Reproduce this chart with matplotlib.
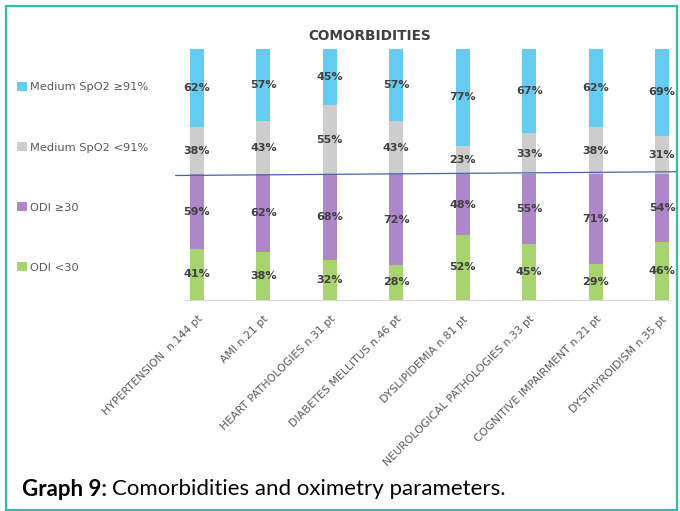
import matplotlib
matplotlib.use("Agg")
import matplotlib.pyplot as plt
from matplotlib.patches import Rectangle
import numpy as np

categories = [
    "HYPERTENSION  n.144 pt",
    "AMI n.21 pt",
    "HEART PATHOLOGIES n.31 pt",
    "DIABETES MELLITUS n.46 pt",
    "DYSLIPIDEMIA n.81 pt",
    "NEUROLOGICAL PATHOLOGIES n.33 pt",
    "COGNITIVE IMPAIRMENT n.21 pt",
    "DYSTHYROIDISM n.35 pt",
]
odi_low = [41, 38, 32, 28, 52, 45, 29, 46]
odi_high = [59, 62, 68, 72, 48, 55, 71, 54]
spo2_low = [38, 43, 55, 43, 23, 33, 38, 31]
spo2_high = [62, 57, 45, 57, 77, 67, 62, 69]

series_labels = ["ODI <30", "ODI \u226530", "Medium SpO2 <91%", "Medium SpO2 \u226591%"]
colors = ["#A8D46F", "#AD87CA", "#CDCDCD", "#65CBF0"]

fig = plt.figure(figsize=(6.8, 5.11), dpi=100)
ax = fig.add_axes([185 / 680, 1 - 300 / 511, 485 / 680, 251 / 511])

x = np.arange(len(categories))
width = 0.21
# ODI stack goes 0-100, SpO2 stack sits on top from 100-200
bottoms = [np.zeros(len(x)), np.array(odi_low), np.full(len(x), 100.0),
           100 + np.array(spo2_low)]
handles = []
for vals, bot, col, lab in zip([odi_low, odi_high, spo2_low, spo2_high],
                               bottoms, colors, series_labels):
    bars = ax.bar(x, vals, width, bottom=bot, color=col, label=lab)
    handles.append(bars)
    for xi, v, b in zip(x, vals, bot):
        ax.text(xi, b + v / 2, f"{v}%", ha="center", va="center",
                fontsize=8, fontweight="bold", color="#404040")

ax.set_xlim(-0.18, 7.12)
ax.set_ylim(0, 200)
ax.set_yticks([])
for s in ["top", "right", "left"]:
    ax.spines[s].set_visible(False)
ax.spines["bottom"].set_color("#D9D9D9")
ax.set_xticks(x)
ax.set_xticklabels(categories, rotation=45, ha="right", rotation_mode="anchor",
                   fontsize=7.8, color="#595959")
ax.tick_params(axis="x", length=0, pad=10)

# separator line between the two stacks
sep = 100
ax.plot([-0.32, 7.21], [sep - 0.8, sep + 2.2], color="#4A63A8", lw=0.9,
        clip_on=False)

fig.text(370 / 680, 1 - 36 / 511, "COMORBIDITIES", ha="center", va="center",
         fontsize=9.8, fontweight="bold", color="#404040")

leg = fig.legend(handles[::-1], series_labels[::-1], loc="upper left",
                 bbox_to_anchor=(17 / 680, 1 - 82 / 511), frameon=False,
                 fontsize=8.2, labelcolor="#595959", handlelength=0.85,
                 handleheight=0.85, handletextpad=0.3, labelspacing=4.35,
                 borderpad=0, borderaxespad=0)

# caption
cap1 = fig.text(22 / 680, 1 - 489 / 511, "Graph 9:", ha="left", va="center",
                fontsize=16, fontweight="bold", family="Lato", color="#000000")
fig.canvas.draw()
bb = cap1.get_window_extent()
fig.text(bb.x1 / fig.bbox.width + 5 / 680, 1 - 489 / 511,
         "Comorbidities and oximetry parameters.", ha="left", va="center",
         fontsize=16, family="Lato", color="#000000")

fig.add_artist(Rectangle((6 / 680, 1 / 511), 671 / 680, 504 / 511,
                         transform=fig.transFigure, fill=False,
                         edgecolor="#2CC0A4", lw=1.6))

fig.savefig("out.png", dpi=100)
